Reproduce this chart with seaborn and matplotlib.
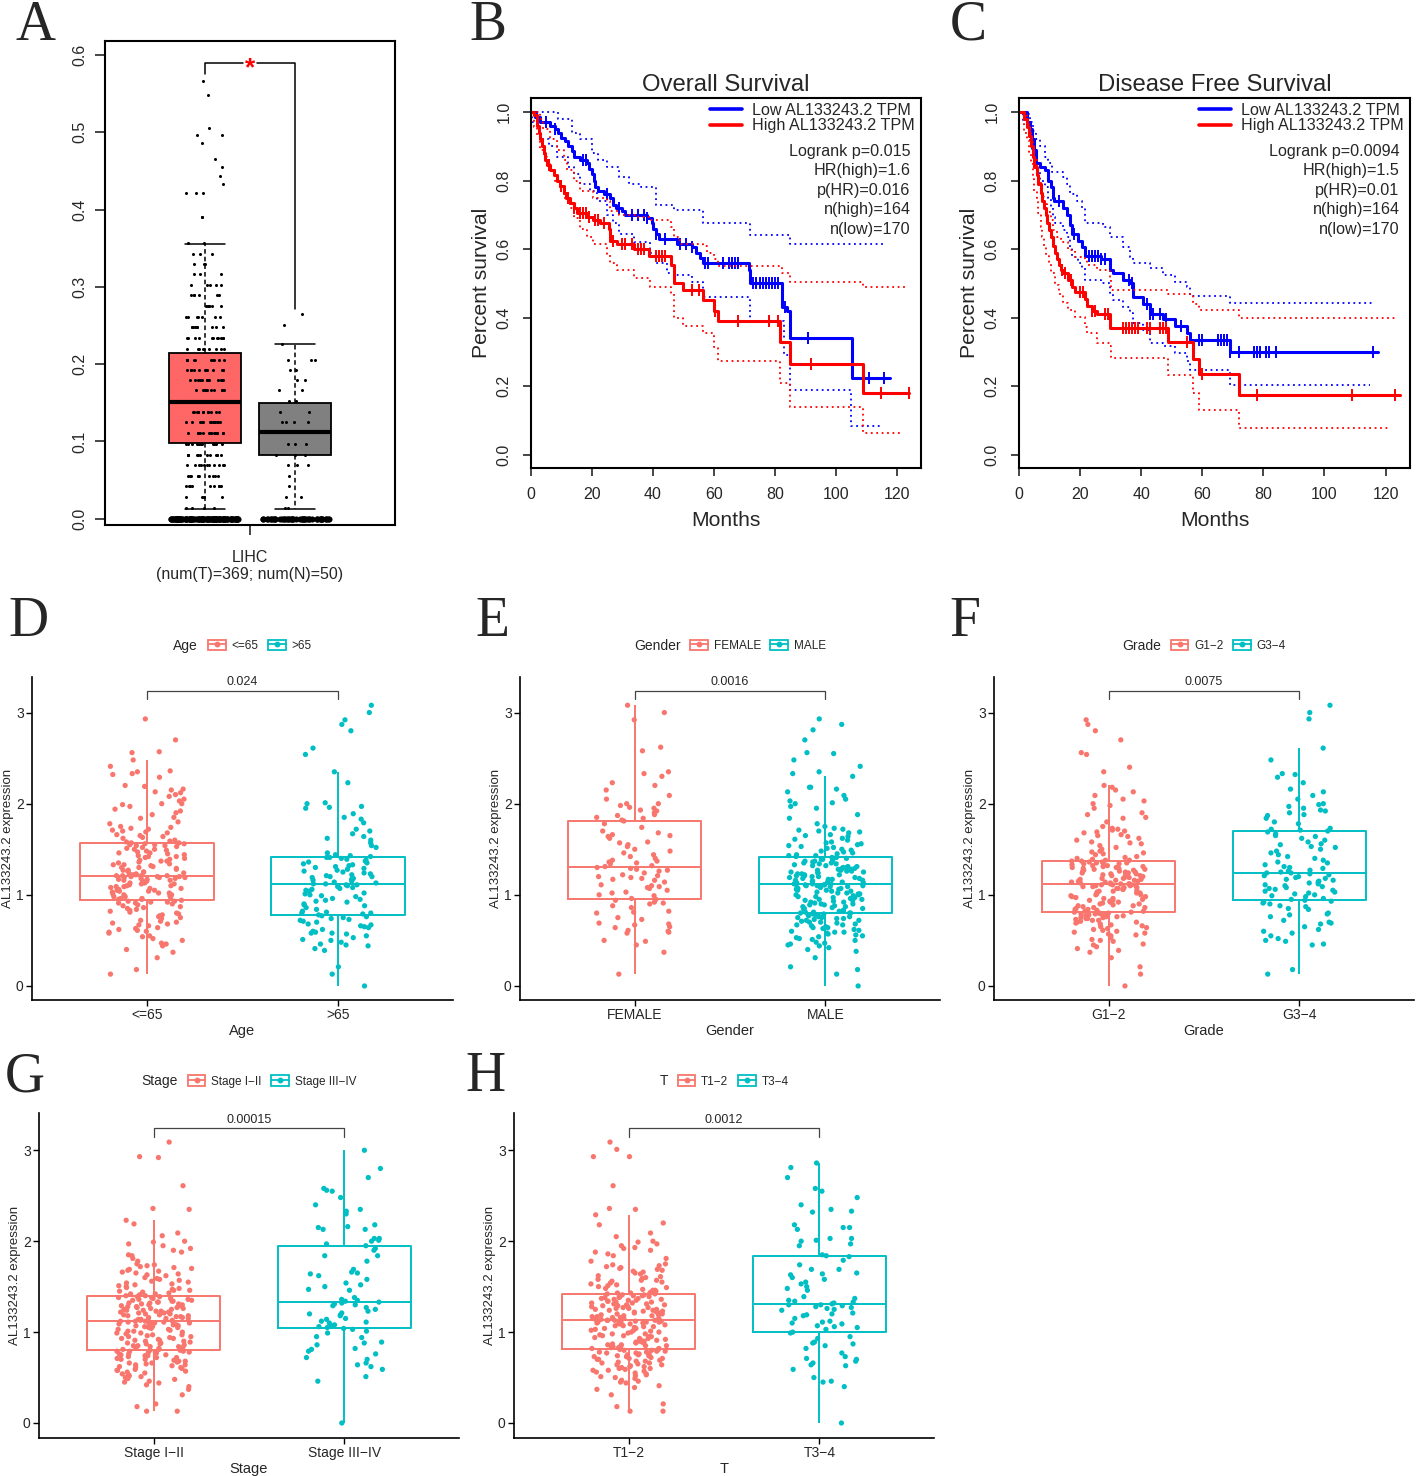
import numpy as np
import pandas as pd
import matplotlib
matplotlib.use('Agg')
import matplotlib.pyplot as plt
from matplotlib.lines import Line2D
from matplotlib.patches import Rectangle
from matplotlib.legend_handler import HandlerTuple
from matplotlib.offsetbox import HPacker
import seaborn as sns

sns.set_theme(style='ticks')
plt.rcParams['font.family'] = ['Liberation Sans', 'DejaVu Sans']
plt.rcParams['axes.unicode_minus'] = False
np.random.seed(11)

# ---------------- Panel A data (GEPIA box plot) ----------------
tumor_box = [0.098, 0.151, 0.215, 0.013, 0.355]   # q1, median, q3, whisker low, whisker high
normal_box = [0.083, 0.112, 0.150, 0.013, 0.226]
tumor_levels = [0.0, 0.014, 0.028, 0.042, 0.055, 0.069, 0.083, 0.097, 0.111, 0.125, 0.138, 0.152,
                0.166, 0.179, 0.193, 0.206, 0.220, 0.234, 0.248, 0.261, 0.275, 0.289, 0.302, 0.316,
                0.330, 0.343, 0.357, 0.390, 0.421, 0.433, 0.444, 0.455, 0.465, 0.486, 0.496, 0.506,
                0.548, 0.566]
tumor_counts = [110, 4, 5, 9, 10, 11, 12, 13, 14, 14, 13, 14, 11, 13, 12, 10, 9, 11, 9, 7, 7, 6, 5, 3,
                3, 3, 2, 2, 3, 1, 1, 1, 1, 1, 2, 1, 1, 1]
normal_levels = [0.0, 0.014, 0.028, 0.042, 0.055, 0.069, 0.083, 0.097, 0.125, 0.138, 0.152, 0.166,
                 0.179, 0.193, 0.206, 0.226, 0.251, 0.265]
normal_counts = [45, 2, 2, 1, 1, 3, 3, 3, 4, 2, 2, 2, 2, 2, 3, 1, 1, 1]

# ---------------- Panel B: overall survival ----------------
os_low_t = [0, 1.4, 3, 6.3, 8, 9, 10, 11, 12.3, 13.4, 14, 16, 18.4, 19, 20, 20.8, 21, 22, 24, 26,
            27, 28, 30, 31, 38, 39.7, 40.2, 41, 42, 48, 53, 54, 55.5, 56.6, 71.4, 72, 82.3, 84, 85,
            105.2, 117.8]
os_low_s = [1.0, 0.985, 0.97, 0.96, 0.95, 0.94, 0.925, 0.915, 0.90, 0.885, 0.87, 0.86, 0.85, 0.835,
            0.82, 0.80, 0.78, 0.77, 0.76, 0.75, 0.73, 0.72, 0.71, 0.70, 0.69, 0.675, 0.66, 0.645,
            0.63, 0.615, 0.605, 0.59, 0.575, 0.56, 0.54, 0.50, 0.43, 0.42, 0.34, 0.225, 0.225]
os_low_cens = [2, 5, 8, 17, 18, 25, 29, 33, 35, 37, 38, 41, 44, 49, 51, 53, 57, 58, 63, 65, 66, 67,
               68, 73, 74, 75, 76, 77, 78, 79, 80, 81, 83.5, 91, 111, 116]
os_high_t = [0, 1, 2, 2.5, 3, 3.6, 4.2, 4.7, 5.2, 6.3, 7.4, 8.5, 9.6, 10.7, 11.6, 12.9, 14, 15, 18.4,
             20.5, 22.7, 25.5, 26, 28.2, 33.7, 38.6, 46, 46.8, 50, 56.6, 60, 61.5, 81.7, 85, 109, 124]
os_high_s = [1.0, 0.99, 0.96, 0.94, 0.92, 0.90, 0.88, 0.86, 0.845, 0.83, 0.815, 0.80, 0.785, 0.765,
             0.75, 0.735, 0.72, 0.705, 0.695, 0.685, 0.675, 0.66, 0.625, 0.615, 0.60, 0.58, 0.555,
             0.50, 0.48, 0.45, 0.42, 0.39, 0.33, 0.265, 0.18, 0.18]
os_high_cens = [6, 10, 12, 14, 16, 17, 18, 19, 21, 22, 24, 27, 30, 31, 33, 35, 36, 37, 41, 42, 43,
                44, 53, 55, 60.5, 68, 78, 81, 92, 115, 124]
os_low_up_t = [0, 9, 13.5, 16, 20, 22, 25, 29, 32, 36, 41, 47, 56.5, 72, 85, 116]
os_low_up_v = [1.0, 0.98, 0.94, 0.92, 0.88, 0.86, 0.84, 0.81, 0.79, 0.78, 0.73, 0.715, 0.675, 0.64,
               0.615, 0.615]
os_low_lo_t = [0, 0.3, 2, 3, 6, 8.5, 12, 14, 16, 19.5, 21.6, 25, 27, 29, 33.7, 39, 41, 44.6, 47, 53,
               56.6, 72, 83, 85, 105, 115.6]
os_low_lo_v = [1.0, 0.97, 0.955, 0.92, 0.90, 0.87, 0.84, 0.82, 0.79, 0.77, 0.74, 0.70, 0.675, 0.645,
               0.62, 0.59, 0.56, 0.53, 0.525, 0.505, 0.46, 0.39, 0.29, 0.19, 0.085, 0.085]
os_high_up_t = [0, 3, 4, 6.3, 8.5, 10.7, 11.8, 14, 16, 20.5, 25, 26, 29, 34.8, 39, 46, 46.8, 49, 56.6,
                57.7, 60, 61.5, 82.3, 85, 109, 123.3]
os_high_up_v = [1.0, 0.98, 0.95, 0.92, 0.89, 0.86, 0.83, 0.80, 0.77, 0.75, 0.74, 0.71, 0.70, 0.695,
                0.685, 0.665, 0.635, 0.615, 0.61, 0.59, 0.57, 0.55, 0.53, 0.505, 0.49, 0.49]
os_high_lo_t = [0, 1, 2, 3, 4.2, 5.2, 6.3, 8, 9.6, 10.7, 12.9, 14, 16, 18.4, 20.5, 25, 26, 28.2, 33.7,
                39, 46, 46.8, 50, 56.6, 60, 61.5, 81.7, 85, 109, 122.2]
os_high_lo_v = [1.0, 0.955, 0.93, 0.89, 0.87, 0.85, 0.83, 0.80, 0.777, 0.75, 0.72, 0.69, 0.66, 0.636,
                0.615, 0.587, 0.56, 0.54, 0.515, 0.49, 0.47, 0.40, 0.375, 0.355, 0.315, 0.272, 0.21,
                0.14, 0.063, 0.063]
os_stats = ['Logrank p=0.015', 'HR(high)=1.6', 'p(HR)=0.016', 'n(high)=164', 'n(low)=170']

# ---------------- Panel C: disease free survival ----------------
dfs_low_t = [0, 2.5, 3.6, 4.1, 5, 5.6, 6.9, 8.5, 9.6, 10.4, 11, 11.6, 14.5, 15.6, 16.7, 17.2, 19.4,
             20.5, 21.6, 27, 29.8, 30.9, 34, 36.3, 37.4, 40.7, 42.9, 47.2, 51, 54.9, 56, 69, 117.6]
dfs_low_s = [1.0, 0.97, 0.95, 0.92, 0.89, 0.85, 0.84, 0.83, 0.80, 0.78, 0.75, 0.74, 0.72, 0.70, 0.67,
             0.645, 0.625, 0.605, 0.58, 0.57, 0.54, 0.53, 0.51, 0.50, 0.46, 0.44, 0.41, 0.395, 0.375,
             0.355, 0.335, 0.30, 0.30]
dfs_low_cens = [3, 5, 13, 18, 23, 24, 25, 26, 27, 28, 36, 37, 42, 43, 44, 46, 48, 53, 59, 60, 65, 66,
                67, 68, 69, 72, 77, 78, 79, 81, 82, 84, 116]
dfs_high_t = [0, 1.7, 2.5, 3.4, 3.9, 4.5, 5, 5.8, 6.3, 7.1, 7.6, 8.3, 8.8, 9.3, 9.7, 10.4, 11, 11.8,
              12.3, 13.1, 13.7, 14.5, 16.1, 17.2, 18.3, 21.6, 22.1, 23.8, 25.4, 29.8, 48.9, 57, 59,
              72.1, 124.6]
dfs_high_s = [1.0, 0.98, 0.955, 0.93, 0.90, 0.87, 0.84, 0.815, 0.79, 0.765, 0.74, 0.72, 0.70, 0.675,
              0.655, 0.635, 0.61, 0.59, 0.57, 0.555, 0.54, 0.53, 0.51, 0.49, 0.475, 0.455, 0.435,
              0.42, 0.41, 0.37, 0.33, 0.28, 0.235, 0.175, 0.175]
dfs_high_cens = [14, 15, 17, 20, 21, 24, 25, 28, 29, 34, 35, 36, 37, 38, 39, 42, 43, 46, 47, 48, 55,
                 60, 78, 109, 123]
dfs_low_up_t = [0, 2.5, 3.6, 4.7, 5.6, 6.9, 8.5, 9.6, 10.7, 14.5, 15.6, 16.7, 18.9, 20.5, 21.6, 27.6,
                29.8, 34, 36.3, 37.4, 42.9, 47.2, 51, 54.9, 56, 69, 115.9]
dfs_low_up_v = [1.0, 0.995, 0.97, 0.945, 0.92, 0.90, 0.87, 0.85, 0.825, 0.81, 0.79, 0.76, 0.74, 0.72,
                0.675, 0.665, 0.635, 0.607, 0.578, 0.558, 0.544, 0.524, 0.505, 0.49, 0.463, 0.442,
                0.442]
dfs_low_lo_t = [0, 1.4, 2.5, 3.6, 4.1, 5, 5.6, 6.9, 8.5, 9.6, 10.4, 11, 11.8, 14.5, 15.6, 16.7, 17.2,
                19.4, 20.5, 21.6, 27, 29.8, 30.9, 34, 36.3, 37.4, 40.7, 42.9, 47.2, 51, 54.9, 56, 69,
                114.8]
dfs_low_lo_v = [1.0, 0.975, 0.95, 0.92, 0.89, 0.86, 0.83, 0.80, 0.78, 0.75, 0.72, 0.695, 0.675, 0.655,
                0.636, 0.607, 0.578, 0.558, 0.544, 0.51, 0.50, 0.47, 0.45, 0.432, 0.413, 0.383,
                0.364, 0.325, 0.316, 0.296, 0.272, 0.248, 0.204, 0.204]
dfs_high_up_t = [0, 1.7, 2.5, 3.4, 3.9, 4.5, 5, 5.8, 6.3, 7.1, 7.6, 8.3, 9.3, 10.4, 11.2, 12.3, 13.7,
                 16.1, 18.3, 21.6, 22.1, 25.4, 29.8, 30, 48.9, 57, 59, 72.1, 123]
dfs_high_up_v = [1.0, 0.99, 0.97, 0.945, 0.917, 0.893, 0.86, 0.83, 0.80, 0.77, 0.752, 0.733, 0.709,
                 0.684, 0.655, 0.636, 0.621, 0.597, 0.578, 0.568, 0.553, 0.539, 0.515, 0.48, 0.47,
                 0.44, 0.422, 0.398, 0.398]
dfs_high_lo_t = [0, 1.7, 2.5, 3.4, 3.9, 4.5, 5, 5.8, 6.3, 7.1, 7.6, 8.3, 8.8, 9.7, 10.4, 11.8, 13.1,
                 14.5, 16.1, 18.3, 21.6, 22.1, 25.4, 29.8, 30, 48.9, 57, 59, 72.1, 121.4]
dfs_high_lo_v = [1.0, 0.94, 0.917, 0.883, 0.85, 0.81, 0.77, 0.743, 0.704, 0.665, 0.636, 0.607, 0.583,
                 0.558, 0.53, 0.495, 0.47, 0.442, 0.422, 0.403, 0.374, 0.354, 0.325, 0.316, 0.283,
                 0.233, 0.18, 0.131, 0.078, 0.078]
dfs_stats = ['Logrank p=0.0094', 'HR(high)=1.5', 'p(HR)=0.01', 'n(high)=164', 'n(low)=170']

# ---------------- Panels D-H: expression by clinical group ----------------
age_le65 = [0.13, 0.18, 0.31, 0.37, 0.40, 0.44, 0.46, 0.47, 0.50, 0.52, 0.54, 0.55, 0.58, 0.59, 0.60,
            0.61, 0.62, 0.63, 0.64, 0.66, 0.67, 0.68, 0.69, 0.70, 0.71, 0.72, 0.74, 0.75, 0.76, 0.77,
            0.78, 0.79, 0.80, 0.81, 0.82, 0.83, 0.84, 0.85, 0.86, 0.87, 0.88, 0.89, 0.90, 0.91, 0.91,
            0.92, 0.92, 0.93, 0.93, 0.94,
            0.95, 0.95, 0.96, 0.96, 0.97, 0.98, 0.98, 0.99, 1.00, 1.00, 1.01, 1.02, 1.02, 1.03, 1.04,
            1.04, 1.05, 1.05, 1.06, 1.07, 1.07, 1.08, 1.09, 1.09, 1.10, 1.10, 1.11, 1.12, 1.12, 1.13,
            1.13, 1.14, 1.15, 1.15, 1.16, 1.16, 1.17, 1.17, 1.18, 1.18, 1.19, 1.19, 1.19, 1.20, 1.20,
            1.20, 1.21, 1.21, 1.21, 1.21,
            1.22, 1.22, 1.23, 1.23, 1.24, 1.25, 1.25, 1.26, 1.27, 1.27, 1.28, 1.29, 1.30, 1.30, 1.31,
            1.32, 1.33, 1.33, 1.34, 1.35, 1.36, 1.37, 1.37, 1.38, 1.39, 1.40, 1.41, 1.42, 1.42, 1.43,
            1.44, 1.45, 1.46, 1.46, 1.47, 1.48, 1.49, 1.50, 1.50, 1.51, 1.52, 1.53, 1.54, 1.54, 1.55,
            1.55, 1.56, 1.56, 1.57, 1.57,
            1.58, 1.59, 1.60, 1.62, 1.63, 1.64, 1.65, 1.66, 1.68, 1.69, 1.70, 1.71, 1.72, 1.73, 1.74,
            1.75, 1.78, 1.80, 1.84, 1.85, 1.88, 1.90, 1.92, 1.94, 1.97, 1.99, 2.00, 2.00, 2.03, 2.05,
            2.08, 2.10, 2.12, 2.13, 2.15, 2.16, 2.19, 2.20, 2.29, 2.32, 2.33, 2.35, 2.36, 2.41, 2.48,
            2.56, 2.57, 2.70, 2.93]
age_gt65 = [0.00, 0.13, 0.21, 0.39, 0.41, 0.44, 0.45, 0.46, 0.48, 0.50, 0.51, 0.53, 0.55, 0.57, 0.58,
            0.58, 0.59, 0.60, 0.62, 0.64, 0.65, 0.66, 0.67, 0.68, 0.70, 0.71, 0.72, 0.73, 0.74, 0.75,
            0.76, 0.77,
            0.78, 0.79, 0.80, 0.80, 0.81, 0.82, 0.84, 0.86, 0.88, 0.89, 0.90, 0.92, 0.93, 0.94, 0.95,
            0.96, 0.98, 0.99, 1.00, 1.01, 1.02, 1.04, 1.05, 1.06, 1.07, 1.08, 1.09, 1.10, 1.10, 1.11,
            1.11, 1.12,
            1.12, 1.13, 1.14, 1.15, 1.16, 1.17, 1.18, 1.19, 1.20, 1.20, 1.21, 1.22, 1.23, 1.24, 1.25,
            1.26, 1.27, 1.28, 1.29, 1.30, 1.31, 1.32, 1.33, 1.34, 1.35, 1.36, 1.37, 1.38, 1.39, 1.40,
            1.41, 1.41,
            1.42, 1.43, 1.44, 1.46, 1.52, 1.54, 1.57, 1.60, 1.62, 1.64, 1.67, 1.70, 1.72, 1.79, 1.83,
            1.85, 1.89, 1.95, 1.96, 1.97, 2.00, 2.01, 2.23, 2.35, 2.54, 2.61, 2.80, 2.87, 2.92, 3.00,
            3.08]
sex_female = [0.13, 0.37, 0.45, 0.49, 0.50, 0.58, 0.59, 0.60, 0.61, 0.64, 0.65, 0.67, 0.68, 0.69,
              0.73, 0.75, 0.80, 0.81, 0.82, 0.86, 0.88, 0.90, 0.91, 0.92, 0.94, 0.95,
              0.95, 0.96, 0.99, 1.00, 1.02, 1.03, 1.05, 1.07, 1.08, 1.09, 1.10, 1.11, 1.14, 1.16,
              1.17, 1.18, 1.19, 1.20, 1.21, 1.22, 1.24, 1.26, 1.27, 1.28, 1.29, 1.30,
              1.31, 1.32, 1.34, 1.35, 1.36, 1.37, 1.38, 1.40, 1.42, 1.44, 1.46, 1.48, 1.50, 1.53,
              1.55, 1.57, 1.58, 1.62, 1.64, 1.65, 1.66, 1.68, 1.70, 1.74, 1.78, 1.81,
              1.82, 1.84, 1.85, 1.87, 1.88, 1.90, 1.92, 1.93, 1.95, 1.96, 1.98, 2.00, 2.00, 2.05,
              2.09, 2.15, 2.20, 2.23, 2.30, 2.33, 2.35, 2.58, 2.62, 2.92, 3.00, 3.08]
sex_male = [0.00, 0.13, 0.18, 0.21, 0.31, 0.38, 0.40, 0.42, 0.44, 0.45, 0.46, 0.47, 0.48, 0.50, 0.51,
            0.52, 0.53, 0.54, 0.55, 0.56, 0.57, 0.58, 0.59, 0.59, 0.60, 0.61, 0.62, 0.63, 0.64, 0.64,
            0.65, 0.66, 0.67, 0.67, 0.68, 0.69, 0.70, 0.70, 0.71, 0.72, 0.72, 0.73, 0.74, 0.74, 0.75,
            0.75, 0.76, 0.76, 0.77, 0.77, 0.78, 0.78, 0.79, 0.79, 0.80, 0.80, 0.80,
            0.81, 0.81, 0.82, 0.83, 0.83, 0.84, 0.85, 0.85, 0.86, 0.87, 0.87, 0.88, 0.89, 0.89, 0.90,
            0.90, 0.91, 0.92, 0.92, 0.93, 0.94, 0.94, 0.95, 0.95, 0.96, 0.97, 0.97, 0.98, 0.98, 0.99,
            1.00, 1.00, 1.01, 1.01, 1.02, 1.02, 1.03, 1.04, 1.04, 1.05, 1.05, 1.06, 1.06, 1.07, 1.07,
            1.08, 1.08, 1.09, 1.09, 1.10, 1.10, 1.10, 1.11, 1.11, 1.11, 1.12, 1.12,
            1.12, 1.13, 1.13, 1.14, 1.14, 1.15, 1.15, 1.16, 1.16, 1.17, 1.17, 1.18, 1.18, 1.19, 1.19,
            1.20, 1.20, 1.21, 1.21, 1.22, 1.22, 1.23, 1.23, 1.24, 1.24, 1.25, 1.25, 1.26, 1.26, 1.27,
            1.27, 1.28, 1.28, 1.29, 1.29, 1.30, 1.30, 1.31, 1.31, 1.32, 1.32, 1.33, 1.34, 1.34, 1.35,
            1.35, 1.36, 1.37, 1.37, 1.38, 1.39, 1.39, 1.40, 1.41, 1.41, 1.42, 1.43,
            1.43, 1.44, 1.45, 1.46, 1.47, 1.48, 1.49, 1.50, 1.51, 1.52, 1.53, 1.54, 1.55, 1.56, 1.57,
            1.58, 1.60, 1.61, 1.62, 1.64, 1.65, 1.66, 1.68, 1.69, 1.70, 1.71, 1.72, 1.73, 1.75, 1.78,
            1.84, 1.88, 1.95, 1.97, 2.00, 2.01, 2.03, 2.05, 2.09, 2.13, 2.16, 2.18, 2.18, 2.30, 2.33,
            2.35, 2.41, 2.48, 2.55, 2.56, 2.70, 2.81, 2.87, 2.93]
grade_12 = [0.00, 0.13, 0.21, 0.31, 0.37, 0.39, 0.41, 0.43, 0.45, 0.46, 0.49, 0.50, 0.51, 0.53, 0.55,
            0.56, 0.57, 0.58, 0.59, 0.60, 0.61, 0.62, 0.63, 0.64, 0.65, 0.66, 0.67, 0.68, 0.69, 0.70,
            0.70, 0.71, 0.72, 0.72, 0.73, 0.74, 0.74, 0.75, 0.75, 0.76, 0.76, 0.77, 0.77, 0.78, 0.78,
            0.79, 0.79, 0.79, 0.80, 0.80, 0.80, 0.81, 0.81,
            0.82, 0.82, 0.83, 0.84, 0.84, 0.85, 0.86, 0.86, 0.87, 0.88, 0.88, 0.89, 0.90, 0.90, 0.91,
            0.92, 0.92, 0.93, 0.94, 0.94, 0.95, 0.96, 0.96, 0.97, 0.98, 0.98, 0.99, 1.00, 1.00, 1.01,
            1.02, 1.02, 1.03, 1.04, 1.04, 1.05, 1.06, 1.06, 1.07, 1.07, 1.08, 1.08, 1.09, 1.09, 1.10,
            1.10, 1.10, 1.11, 1.11, 1.11, 1.12, 1.12, 1.12,
            1.12, 1.13, 1.13, 1.14, 1.14, 1.15, 1.15, 1.16, 1.16, 1.17, 1.17, 1.18, 1.18, 1.19, 1.19,
            1.20, 1.20, 1.21, 1.21, 1.22, 1.22, 1.23, 1.23, 1.24, 1.24, 1.25, 1.25, 1.26, 1.26, 1.27,
            1.27, 1.28, 1.28, 1.29, 1.29, 1.30, 1.30, 1.31, 1.31, 1.32, 1.32, 1.33, 1.33, 1.34, 1.34,
            1.35, 1.35, 1.36, 1.36, 1.37, 1.37, 1.38, 1.38,
            1.39, 1.40, 1.41, 1.42, 1.44, 1.45, 1.46, 1.47, 1.48, 1.50, 1.52, 1.54, 1.56, 1.57, 1.58,
            1.60, 1.62, 1.64, 1.65, 1.66, 1.68, 1.69, 1.70, 1.71, 1.72, 1.73, 1.75, 1.80, 1.84, 1.85,
            1.88, 1.90, 1.95, 1.98, 2.00, 2.03, 2.05, 2.09, 2.13, 2.15, 2.18, 2.20, 2.35, 2.40, 2.54,
            2.56, 2.70, 2.80, 2.87, 2.92]
grade_34 = [0.13, 0.18, 0.45, 0.46, 0.49, 0.50, 0.52, 0.55, 0.58, 0.60, 0.62, 0.65, 0.68, 0.69, 0.70,
            0.72, 0.76, 0.78, 0.79, 0.80, 0.84, 0.85, 0.87, 0.88, 0.90, 0.91, 0.92, 0.93, 0.94,
            0.95, 0.96, 0.98, 0.99, 1.00, 1.01, 1.02, 1.03, 1.04, 1.05, 1.06, 1.07, 1.08, 1.09, 1.10,
            1.11, 1.12, 1.13, 1.14, 1.15, 1.16, 1.17, 1.18, 1.19, 1.20, 1.21, 1.22, 1.23, 1.24,
            1.24, 1.25, 1.26, 1.27, 1.29, 1.30, 1.31, 1.33, 1.35, 1.36, 1.38, 1.40, 1.42, 1.44, 1.46,
            1.48, 1.50, 1.52, 1.53, 1.55, 1.56, 1.58, 1.60, 1.62, 1.64, 1.65, 1.67, 1.69, 1.70,
            1.71, 1.72, 1.73, 1.78, 1.80, 1.84, 1.87, 1.88, 1.90, 1.92, 1.93, 1.95, 1.97, 1.99, 2.00,
            2.05, 2.09, 2.13, 2.16, 2.23, 2.29, 2.32, 2.33, 2.48, 2.61, 2.93, 3.00, 3.08]
stage_12 = [0.13, 0.13, 0.18, 0.21, 0.31, 0.37, 0.40, 0.42, 0.44, 0.45, 0.46, 0.48, 0.49, 0.50, 0.51,
            0.52, 0.53, 0.54, 0.55, 0.56, 0.57, 0.58, 0.58, 0.59, 0.60, 0.61, 0.61, 0.62, 0.63, 0.64,
            0.64, 0.65, 0.66, 0.66, 0.67, 0.68, 0.68, 0.69, 0.70, 0.70, 0.71, 0.72, 0.72, 0.73, 0.74,
            0.74, 0.75, 0.75, 0.76, 0.76, 0.77, 0.77, 0.78, 0.78, 0.79, 0.79, 0.79, 0.80, 0.80,
            0.81, 0.81, 0.82, 0.82, 0.83, 0.84, 0.84, 0.85, 0.85, 0.86, 0.87, 0.87, 0.88, 0.88, 0.89,
            0.90, 0.90, 0.91, 0.91, 0.92, 0.93, 0.93, 0.94, 0.95, 0.95, 0.96, 0.97, 0.97, 0.98, 0.99,
            0.99, 1.00, 1.01, 1.01, 1.02, 1.03, 1.03, 1.04, 1.05, 1.05, 1.06, 1.06, 1.07, 1.07, 1.08,
            1.08, 1.09, 1.09, 1.10, 1.10, 1.10, 1.11, 1.11, 1.11, 1.12, 1.12, 1.12, 1.13, 1.13,
            1.13, 1.14, 1.14, 1.15, 1.15, 1.16, 1.16, 1.17, 1.17, 1.18, 1.18, 1.19, 1.19, 1.20, 1.20,
            1.21, 1.21, 1.22, 1.22, 1.23, 1.23, 1.24, 1.24, 1.25, 1.25, 1.26, 1.26, 1.27, 1.27, 1.28,
            1.28, 1.29, 1.29, 1.30, 1.30, 1.31, 1.31, 1.32, 1.32, 1.33, 1.33, 1.34, 1.34, 1.35, 1.35,
            1.36, 1.36, 1.37, 1.37, 1.38, 1.38, 1.39, 1.39, 1.40, 1.40, 1.41, 1.42, 1.42, 1.43,
            1.44, 1.45, 1.46, 1.46, 1.47, 1.48, 1.49, 1.50, 1.51, 1.52, 1.53, 1.54, 1.55, 1.56, 1.57,
            1.58, 1.59, 1.60, 1.62, 1.63, 1.64, 1.65, 1.66, 1.67, 1.68, 1.69, 1.70, 1.71, 1.72, 1.73,
            1.74, 1.75, 1.78, 1.81, 1.84, 1.85, 1.88, 1.90, 1.92, 1.95, 1.97, 1.99, 2.00, 2.06, 2.09,
            2.19, 2.23, 2.35, 2.36, 2.61, 2.92, 2.93, 3.09]
stage_34 = [0.00, 0.46, 0.51, 0.59, 0.62, 0.64, 0.66, 0.70, 0.72, 0.76, 0.79, 0.81, 0.82, 0.86, 0.88,
            0.89, 0.94, 0.95, 0.99, 1.01, 1.03,
            1.04, 1.05, 1.06, 1.07, 1.08, 1.10, 1.11, 1.12, 1.14, 1.15, 1.18, 1.19, 1.20, 1.21, 1.23,
            1.25, 1.27, 1.29, 1.30, 1.31, 1.32,
            1.33, 1.34, 1.35, 1.36, 1.38, 1.46, 1.47, 1.50, 1.52, 1.54, 1.58, 1.62, 1.64, 1.65, 1.66,
            1.69, 1.78, 1.84, 1.84, 1.90, 1.92,
            1.95, 1.97, 2.00, 2.01, 2.03, 2.03, 2.13, 2.13, 2.15, 2.16, 2.18, 2.30, 2.33, 2.35, 2.40,
            2.48, 2.55, 2.56, 2.58, 2.70, 2.80, 3.00]
t_12 = [0.13, 0.13, 0.18, 0.21, 0.31, 0.37, 0.39, 0.41, 0.44, 0.45, 0.46, 0.47, 0.49, 0.50, 0.51, 0.52,
        0.53, 0.54, 0.55, 0.56, 0.57, 0.58, 0.58, 0.59, 0.60, 0.60, 0.61, 0.62, 0.62, 0.63, 0.64, 0.64,
        0.65, 0.66, 0.66, 0.67, 0.68, 0.68, 0.69, 0.70, 0.70, 0.71, 0.71, 0.72, 0.73, 0.73, 0.74, 0.74,
        0.75, 0.75, 0.76, 0.76, 0.77, 0.77, 0.78, 0.78, 0.79, 0.79, 0.80, 0.80, 0.81, 0.81,
        0.82, 0.82, 0.83, 0.83, 0.84, 0.84, 0.85, 0.85, 0.86, 0.86, 0.87, 0.88, 0.88, 0.89, 0.89, 0.90,
        0.90, 0.91, 0.92, 0.92, 0.93, 0.93, 0.94, 0.95, 0.95, 0.96, 0.96, 0.97, 0.98, 0.98, 0.99, 1.00,
        1.00, 1.01, 1.02, 1.02, 1.03, 1.04, 1.04, 1.05, 1.05, 1.06, 1.06, 1.07, 1.07, 1.08, 1.08, 1.09,
        1.09, 1.10, 1.10, 1.10, 1.11, 1.11, 1.11, 1.12, 1.12, 1.12, 1.13, 1.13, 1.13, 1.13,
        1.14, 1.14, 1.15, 1.15, 1.15, 1.16, 1.16, 1.17, 1.17, 1.18, 1.18, 1.19, 1.19, 1.20, 1.20, 1.21,
        1.21, 1.22, 1.22, 1.23, 1.23, 1.24, 1.24, 1.25, 1.25, 1.26, 1.26, 1.27, 1.27, 1.28, 1.28, 1.29,
        1.29, 1.30, 1.30, 1.31, 1.31, 1.32, 1.32, 1.33, 1.33, 1.34, 1.34, 1.35, 1.35, 1.36, 1.36, 1.37,
        1.37, 1.38, 1.38, 1.39, 1.39, 1.40, 1.40, 1.41, 1.41, 1.42, 1.42, 1.43, 1.43, 1.43,
        1.44, 1.44, 1.45, 1.46, 1.46, 1.47, 1.48, 1.49, 1.50, 1.51, 1.52, 1.53, 1.54, 1.55, 1.56, 1.57,
        1.57, 1.58, 1.59, 1.60, 1.61, 1.62, 1.64, 1.65, 1.66, 1.67, 1.68, 1.69, 1.70, 1.71, 1.72, 1.73,
        1.74, 1.75, 1.78, 1.81, 1.84, 1.86, 1.88, 1.90, 1.92, 1.93, 1.95, 1.97, 1.99, 2.00, 2.05, 2.09,
        2.18, 2.20, 2.29, 2.35, 2.36, 2.61, 2.93, 2.93, 3.01, 3.09]
t_34 = [0.00, 0.40, 0.45, 0.46, 0.50, 0.59, 0.63, 0.64, 0.66, 0.68, 0.70, 0.71, 0.73, 0.77, 0.82, 0.85,
        0.87, 0.88, 0.89, 0.93, 0.95, 0.99,
        1.00, 1.03, 1.05, 1.06, 1.07, 1.09, 1.10, 1.11, 1.12, 1.15, 1.18, 1.19, 1.20, 1.21, 1.24, 1.25,
        1.26, 1.27, 1.28, 1.29, 1.30, 1.30,
        1.31, 1.32, 1.33, 1.34, 1.35, 1.37, 1.39, 1.46, 1.48, 1.50, 1.53, 1.55, 1.58, 1.60, 1.63, 1.64,
        1.65, 1.69, 1.69, 1.74, 1.79, 1.83,
        1.84, 1.85, 1.95, 1.97, 2.00, 2.01, 2.03, 2.03, 2.13, 2.15, 2.15, 2.18, 2.32, 2.33, 2.35, 2.40,
        2.48, 2.55, 2.58, 2.70, 2.81, 2.86]

W, H = 1416, 1476
fig = plt.figure(figsize=(W / 100, H / 100), dpi=100)
fig.patch.set_facecolor('white')


def rect(l, t, r, b):
    return [l / W, 1 - b / H, (r - l) / W, (b - t) / H]


def letter(ch, x, y):
    fig.text(x / W, 1 - y / H, ch, family=['Liberation Serif', 'DejaVu Serif'],
             fontsize=40, ha='center', va='baseline')


def r_frame(ax):
    for s in ax.spines.values():
        s.set_visible(True)
        s.set_linewidth(1.5)
        s.set_color('black')


# ---------------- A ----------------
axA = fig.add_axes(rect(105, 41, 395, 525))
box_stats = []
for b in (tumor_box, normal_box):
    box_stats.append(dict(q1=b[0], med=b[1], q3=b[2], whislo=b[3], whishi=b[4], fliers=[]))
bp = axA.bxp(box_stats, positions=[0, 1], widths=0.8, patch_artist=True, showfliers=False,
             boxprops=dict(linewidth=1.3, edgecolor='black'),
             medianprops=dict(color='black', linewidth=3),
             whiskerprops=dict(linestyle=(0, (3, 2)), linewidth=1.1, color='black'),
             capprops=dict(linewidth=1.1, color='black'), capwidths=0.45, manage_ticks=False)
for patch, c in zip(bp['boxes'], ['#FF6666', '#808080']):
    patch.set_facecolor(c)

dfA = pd.DataFrame({
    'group': ['Tumor'] * sum(tumor_counts) + ['Normal'] * sum(normal_counts),
    'value': np.concatenate([np.repeat(tumor_levels, tumor_counts),
                             np.repeat(normal_levels, normal_counts)]),
})
sns.stripplot(data=dfA[dfA['value'] > 0], x='group', y='value', order=['Tumor', 'Normal'],
              color='black', size=2.2, jitter=0.22, linewidth=0, ax=axA, zorder=4)
sns.stripplot(data=dfA[dfA['value'] == 0], x='group', y='value', order=['Tumor', 'Normal'],
              color='black', size=4.4, jitter=0.385, linewidth=0, ax=axA, zorder=4)
axA.set_xlim(-1.11, 2.11)
axA.set_ylim(-0.008, 0.618)
axA.set_xticks([0.5])
axA.set_xticklabels(['LIHC\n(num(T)=369; num(N)=50)'], fontsize=11.5, linespacing=1.2)
axA.set_yticks([0, 0.1, 0.2, 0.3, 0.4, 0.5, 0.6])
axA.set_yticklabels(['0.0', '0.1', '0.2', '0.3', '0.4', '0.5', '0.6'], fontsize=11.5,
                    rotation=90, va='center')
axA.tick_params(length=7, width=1.2, direction='out', pad=6)
axA.tick_params(axis='x', pad=11)
axA.set_xlabel('')
axA.set_ylabel('')
r_frame(axA)
axA.plot([0, 0, 0.42], [0.575, 0.59, 0.59], color='black', lw=1.1)
axA.plot([0.58, 1, 1], [0.59, 0.59, 0.272], color='black', lw=1.1)
axA.text(0.5, 0.583, '*', color='red', fontsize=19, ha='center', va='center', fontweight='bold')
letter('A', 35, 40)


# ---------------- B, C ----------------
def km_panel(r, title, curves, stats):
    ax = fig.add_axes(r)
    for t, s, cens, ut, uv, lt, lv, c in curves:
        ax.step(ut, uv, where='post', color=c, lw=1.3, ls=(0, (1, 2)))
        ax.step(lt, lv, where='post', color=c, lw=1.3, ls=(0, (1, 2)))
        ax.step(t, s, where='post', color=c, lw=2.2)
        idx = np.searchsorted(t, cens, side='right') - 1
        ax.plot(cens, np.asarray(s)[idx], ls='none', marker='|', ms=8, mew=1.4, color=c)
    ax.set_xlim(0, 128)
    ax.set_ylim(-0.039, 1.041)
    ax.set_xticks([0, 20, 40, 60, 80, 100, 120])
    ax.set_yticks([0, 0.2, 0.4, 0.6, 0.8, 1.0])
    ax.set_yticklabels(['0.0', '0.2', '0.4', '0.6', '0.8', '1.0'], rotation=90, va='center')
    ax.tick_params(labelsize=11.5, length=6, width=1.2, direction='out', pad=8)
    ax.set_xlabel('Months', fontsize=15.2, labelpad=6)
    ax.set_ylabel('Percent survival', fontsize=15.2, labelpad=4)
    ax.set_title(title, fontsize=17.2, pad=5)
    r_frame(ax)
    ax.legend(handles=[Line2D([], [], color='blue', lw=2.6), Line2D([], [], color='red', lw=2.6)],
              labels=['Low AL133243.2 TPM', 'High AL133243.2 TPM'], loc='upper right',
              bbox_to_anchor=(0.988, 0.992), frameon=False, fontsize=11.6, handlelength=2.0,
              handletextpad=0.6, labelspacing=0.05, borderaxespad=0, borderpad=0.1)
    for i, txt in enumerate(stats):
        ax.text(124.6, 0.886 - 0.057 * i, txt, ha='right', va='center', fontsize=11.6)
    return ax


km_panel(rect(531, 98, 921, 468), 'Overall Survival',
         [(os_low_t, os_low_s, os_low_cens, os_low_up_t, os_low_up_v, os_low_lo_t, os_low_lo_v, 'blue'),
          (os_high_t, os_high_s, os_high_cens, os_high_up_t, os_high_up_v, os_high_lo_t, os_high_lo_v, 'red')],
         os_stats)
km_panel(rect(1019, 98, 1410, 468), 'Disease Free Survival',
         [(dfs_low_t, dfs_low_s, dfs_low_cens, dfs_low_up_t, dfs_low_up_v, dfs_low_lo_t, dfs_low_lo_v, 'blue'),
          (dfs_high_t, dfs_high_s, dfs_high_cens, dfs_high_up_t, dfs_high_up_v, dfs_high_lo_t, dfs_high_lo_v, 'red')],
         dfs_stats)
letter('B', 488, 40)
letter('C', 968, 40)

# ---------------- D-H ----------------
pal = ['#F8766D', '#00BFC4']


def expr_panel(r, var, groups, va, vb, pval, ylim):
    ax = fig.add_axes(r)
    df = pd.DataFrame({var: [groups[0]] * len(va) + [groups[1]] * len(vb), 'value': va + vb})
    sns.boxplot(data=df, x=var, y='value', hue=var, order=groups, hue_order=groups, palette=pal,
                saturation=1, fill=False, width=0.7, showfliers=False, linewidth=1.4,
                capprops={'visible': False}, legend=False, ax=ax)
    sns.stripplot(data=df, x=var, y='value', hue=var, order=groups, hue_order=groups, palette=pal,
                  jitter=0.2, size=3.8, linewidth=0, legend=False, ax=ax, zorder=3)
    ax.set_xlim(-0.6, 1.6)
    ax.set_ylim(*ylim)
    ax.set_yticks([0, 1, 2, 3])
    sns.despine(ax=ax)
    for s in ('left', 'bottom'):
        ax.spines[s].set_linewidth(1.2)
        ax.spines[s].set_color('black')
    ax.tick_params(labelsize=10, length=4, width=1.0, color='black', pad=2)
    ax.set_xlabel(var, fontsize=10.5, labelpad=1.5)
    ax.set_ylabel('AL133243.2 expression', fontsize=9.5, labelpad=1)
    ax.plot([0, 0, 1, 1], [3.15, 3.24, 3.24, 3.15], color='#444444', lw=0.9)
    ax.text(0.5, 3.27, pval, ha='center', va='bottom', fontsize=9)
    handles = []
    for c in pal:
        handles.append((Rectangle((0, 0), 1, 1, facecolor='white', edgecolor=c, lw=1.3),
                        Line2D([], [], color=c, lw=1.3, marker='o', ms=3.2)))
    leg = ax.legend(handles=handles, labels=groups, title=var, ncol=2, loc='center',
                    bbox_to_anchor=(0.5, 1.097), frameon=False, fontsize=8.5, title_fontsize=10,
                    handler_map={tuple: HandlerTuple(ndivide=1)}, handlelength=1.5,
                    handleheight=1.0, handletextpad=0.5, columnspacing=0.8)
    vp = leg._legend_box
    kids = vp.get_children()
    vp._children = [HPacker(pad=0, sep=7, align='center', children=kids)]
    return ax


expr_panel(rect(32, 677, 453, 1000), 'Age', ['<=65', '>65'], age_le65, age_gt65, '0.024',
           (-0.154, 3.39))
expr_panel(rect(520, 677, 940, 1000), 'Gender', ['FEMALE', 'MALE'], sex_female, sex_male, '0.0016',
           (-0.154, 3.39))
expr_panel(rect(994, 677, 1414, 1000), 'Grade', ['G1\u22122', 'G3\u22124'], grade_12, grade_34,
           '0.0075', (-0.154, 3.39))
expr_panel(rect(39, 1113, 459, 1438), 'Stage', ['Stage I\u2212II', 'Stage III\u2212IV'], stage_12,
           stage_34, '0.00015', (-0.165, 3.41))
expr_panel(rect(514, 1113, 934, 1438), 'T', ['T1\u22122', 'T3\u22124'], t_12, t_34, '0.0012',
           (-0.165, 3.41))
letter('D', 28, 636)
letter('E', 492, 636)
letter('F', 965, 636)
letter('G', 25, 1091)
letter('H', 485, 1091)

fig.savefig('out.png', dpi=100, facecolor='white')
